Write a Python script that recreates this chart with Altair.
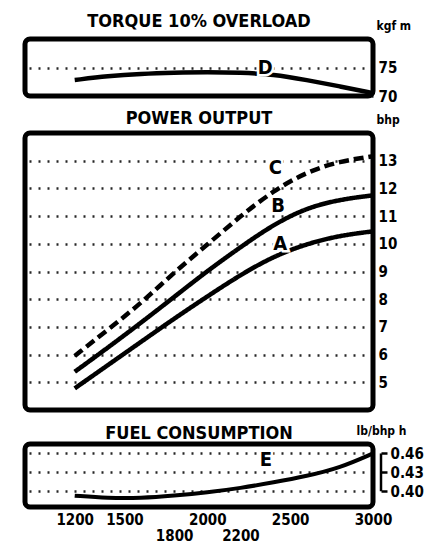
import altair as alt
import pandas as pd

# ---- data ----
rpm = [1200, 1400, 1600, 1800, 2000, 2200, 2400, 2600, 2800, 3000]
torque_d = [72.8, 73.5, 73.9, 74.1, 74.2, 74.1, 73.8, 72.8, 71.7, 70.5]
power_a = [4.78, 5.62, 6.46, 7.3, 8.1, 8.88, 9.55, 10.0, 10.3, 10.45]
power_b = [5.38, 6.25, 7.15, 8.08, 9.02, 9.88, 10.7, 11.3, 11.6, 11.75]
power_c = [5.95, 6.9, 7.85, 8.97, 9.97, 11.0, 11.92, 12.6, 12.98, 13.16]
fuel_e = [0.393, 0.389, 0.389, 0.393, 0.398, 0.405, 0.414, 0.424, 0.437, 0.460]

x_ticks = [1200, 1500, 1800, 2000, 2200, 2500, 3000]
x_second_row = [1800, 2200]
torque_ticks = [70, 75]
power_ticks = [5, 6, 7, 8, 9, 10, 11, 12, 13]
fuel_ticks = [0.40, 0.43, 0.46]

curve_labels_power = ["A", "B", "C"]
curve_label_rpm_power = [2440, 2427, 2410]
curve_label_val_power = [9.98, 11.35, 12.73]
label_d = ("D", 2350, 75.0)
label_e = ("E", 2354, 0.449)

FONT = "DejaVu Sans Condensed, DejaVu Sans"
W = 348
FUEL_AXIS_OFFSET = 8

x_scale = alt.Scale(domain=[900, 3000], nice=False, zero=False)

second_row_test = " || ".join(f"datum.value == {v}" for v in x_second_row)
x_axis = alt.Axis(values=x_ticks, format="d", title=None, domain=False, ticks=False, grid=False,
                  labelOverlap=False, labelFlush=False, tickCount=50,
                  labelFont=FONT, labelFontSize=15, labelFontWeight="bold", labelColor="black",
                  labelPadding={"condition": {"test": second_row_test, "value": 21}, "value": 5})


def letters(df, yscale, xaxis=None):
    halo = alt.Chart(df).mark_text(font=FONT, fontSize=20, fontWeight="bold",
                                   color="white", stroke="white", strokeWidth=5).encode(
        x=alt.X("rpm:Q", scale=x_scale, axis=xaxis),
        y=alt.Y("v:Q", scale=yscale),
        text="t:N")
    txt = alt.Chart(df).mark_text(font=FONT, fontSize=20, fontWeight="bold",
                                  color="black").encode(
        x=alt.X("rpm:Q", scale=x_scale, axis=xaxis),
        y=alt.Y("v:Q", scale=yscale),
        text="t:N")
    return halo + txt


def right_axis(values, title, fmt="d", offset=0, ticks=False, title_align="left",
               title_x=3, grid_dash=(2, 7)):
    kw = dict(orient="right", values=values, tickCount=50, format=fmt, title=title, titleAngle=0,
              titleAlign=title_align, titleBaseline="bottom", titleX=title_x, titleY=-7,
              titleFont=FONT, titleFontSize=12, titleFontWeight="bold",
              labelFont=FONT, labelFontSize=15, labelFontWeight="bold",
              labelColor="black", titleColor="black", labelPadding=5,
              labelOverlap=False, labelFlush=False,
              grid=True, gridColor="black", gridDash=list(grid_dash), gridWidth=2.5,
              gridOpacity=0.85, domain=False, ticks=ticks, offset=offset)
    if ticks:
        kw.update(tickColor="black", tickWidth=2.5, tickSize=6, labelPadding=3)
    return alt.Axis(**kw)


# ---- torque panel ----
t_scale = alt.Scale(domain=[70, 80], nice=False, zero=False)
tdf = pd.DataFrame({"rpm": rpm, "v": torque_d})
t_line = alt.Chart(tdf).mark_line(color="black", strokeWidth=4.5, interpolate="basis").encode(
    x=alt.X("rpm:Q", scale=x_scale, axis=None),
    y=alt.Y("v:Q", scale=t_scale, axis=right_axis(torque_ticks, "kgf m")))
t_lab = letters(pd.DataFrame({"rpm": [label_d[1]], "v": [label_d[2]], "t": [label_d[0]]}), t_scale)
torque = alt.layer(t_line, t_lab).properties(
    width=W, height=57, title=alt.TitleParams("TORQUE 10% OVERLOAD", offset=-12))

# ---- power panel ----
p_scale = alt.Scale(domain=[4, 14], nice=False, zero=False)
pdf = pd.DataFrame({"rpm": rpm * 3,
                    "v": power_a + power_b + power_c,
                    "curve": ["A"] * len(rpm) + ["B"] * len(rpm) + ["C"] * len(rpm)})
p_lines = alt.Chart(pdf).mark_line(color="black", strokeWidth=4.5, interpolate="basis").encode(
    x=alt.X("rpm:Q", scale=x_scale, axis=None),
    y=alt.Y("v:Q", scale=p_scale, axis=right_axis(power_ticks, "bhp")),
    detail="curve:N",
    strokeDash=alt.StrokeDash("curve:N", scale=alt.Scale(domain=["A", "B", "C"],
                                                         range=[[1, 0], [1, 0], [10, 5]]),
                              legend=None))
p_lab = letters(pd.DataFrame({"rpm": curve_label_rpm_power, "v": curve_label_val_power,
                              "t": curve_labels_power}), p_scale)
power = alt.layer(p_lines, p_lab).properties(
    width=W, height=277, title=alt.TitleParams("POWER OUTPUT", offset=-15))

# ---- fuel panel ----
f_scale = alt.Scale(domain=[0.375, 0.475], nice=False, zero=False)
fdf = pd.DataFrame({"rpm": rpm, "v": fuel_e})
f_line = alt.Chart(fdf).mark_line(color="black", strokeWidth=4, interpolate="basis").encode(
    x=alt.X("rpm:Q", scale=x_scale, axis=x_axis),
    y=alt.Y("v:Q", scale=f_scale, axis=right_axis(fuel_ticks, "lb/bhp h", fmt=".2f",
                                                   offset=FUEL_AXIS_OFFSET, ticks=True,
                                                   title_align="right", title_x=25)))
bracket = alt.Chart(pd.DataFrame({"v": [fuel_ticks[0]], "v2": [fuel_ticks[-1]]})).mark_rule(
    color="black", strokeWidth=2.5).encode(
    y=alt.Y("v:Q", scale=f_scale), y2="v2:Q", x=alt.value(W + FUEL_AXIS_OFFSET))
f_lab = letters(pd.DataFrame({"rpm": [label_e[1]], "v": [label_e[2]], "t": [label_e[0]]}),
                f_scale, xaxis=x_axis)
fuel = alt.layer(f_line, bracket, f_lab).properties(
    width=W, height=63, title=alt.TitleParams("FUEL CONSUMPTION", offset=-19))

chart = alt.vconcat(alt.vconcat(torque, power, spacing=0), fuel, spacing=8).properties(
    padding={"left": 14, "top": 2, "right": 0, "bottom": 0},
    background="white"
).configure_view(
    stroke="black", strokeWidth=5, cornerRadius=5
).configure_title(
    font=FONT, fontSize=18, fontWeight="bold", anchor="middle", color="black"
)

chart.save("out.html", embed_options={"renderer": "svg", "actions": False})
